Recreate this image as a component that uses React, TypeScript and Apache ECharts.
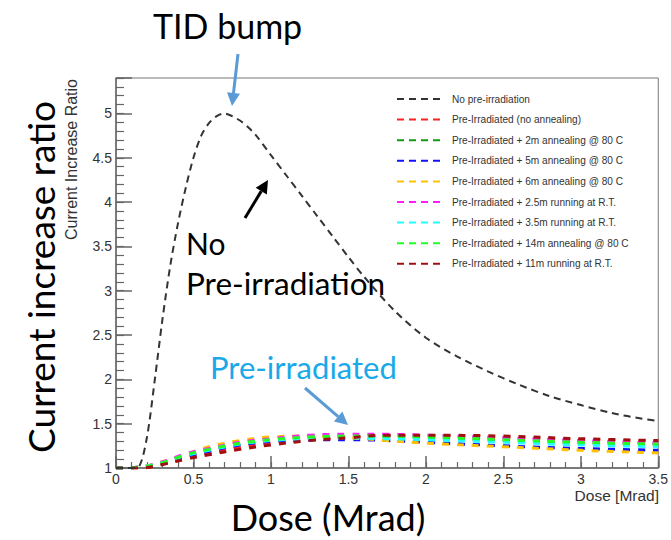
import React, { useEffect, useRef } from 'react';
import * as echarts from 'echarts';

// No pre-irradiation curve
const blackDose = [0, 0.05, 0.1, 0.15, 0.2, 0.25, 0.3, 0.35, 0.4, 0.45, 0.5, 0.55, 0.6, 0.65, 0.7, 0.75, 0.8, 0.85, 0.9, 1.0, 1.1, 1.2, 1.3, 1.4, 1.5, 1.6, 1.8, 2.0, 2.2, 2.4, 2.6, 2.8, 3.0, 3.2, 3.4, 3.5];
const blackRatio = [1.0, 1.0, 1.0, 1.02, 1.35, 1.99, 2.68, 3.28, 3.76, 4.16, 4.5, 4.75, 4.89, 4.97, 5.0, 4.97, 4.92, 4.85, 4.76, 4.53, 4.3, 4.07, 3.84, 3.61, 3.38, 3.16, 2.77, 2.47, 2.26, 2.09, 1.94, 1.81, 1.71, 1.62, 1.555, 1.53];

// Pre-irradiated curves
const preDose = [0, 0.15, 0.3, 0.45, 0.6, 0.8, 1.0, 1.25, 1.5, 1.75, 2.0, 2.5, 3.0, 3.5];
const preNoAnneal = [1, 1.0, 1.04, 1.11, 1.17, 1.23, 1.28, 1.32, 1.35, 1.36, 1.36, 1.34, 1.32, 1.3];
const pre2mAnneal = [1, 1.01, 1.06, 1.14, 1.21, 1.27, 1.31, 1.34, 1.35, 1.35, 1.34, 1.31, 1.28, 1.26];
const pre5mAnneal = [1, 1.01, 1.05, 1.13, 1.19, 1.26, 1.3, 1.32, 1.32, 1.31, 1.29, 1.25, 1.22, 1.2];
const pre6mAnneal = [1, 1.01, 1.07, 1.15, 1.24, 1.31, 1.35, 1.36, 1.34, 1.31, 1.28, 1.24, 1.2, 1.17];
const pre25mRT = [1, 1.01, 1.07, 1.16, 1.22, 1.29, 1.33, 1.37, 1.38, 1.38, 1.37, 1.34, 1.31, 1.28];
const pre35mRT = [1, 1.01, 1.06, 1.14, 1.2, 1.27, 1.31, 1.33, 1.34, 1.33, 1.32, 1.29, 1.26, 1.24];
const pre14mAnneal = [1, 1.01, 1.06, 1.15, 1.21, 1.28, 1.32, 1.35, 1.36, 1.36, 1.35, 1.32, 1.29, 1.27];
const pre11mRT = [1, 1.0, 1.04, 1.1, 1.15, 1.21, 1.26, 1.31, 1.34, 1.37, 1.37, 1.36, 1.33, 1.31];

const seriesNames = [
  'No pre-irradiation',
  'Pre-Irradiated (no annealing)',
  'Pre-Irradiated + 2m annealing @ 80 C',
  'Pre-Irradiated + 5m annealing @ 80 C',
  'Pre-Irradiated + 6m annealing @ 80 C',
  'Pre-Irradiated + 2.5m running at R.T.',
  'Pre-Irradiated + 3.5m running at R.T.',
  'Pre-Irradiated + 14m annealing @ 80 C',
  'Pre-Irradiated + 11m running at R.T.',
];
const seriesColors = ['#333333', '#ff2020', '#109a10', '#1010ff', '#ffc000', '#ff20ff', '#20ffff', '#20ff20', '#a01010'];
const preSeries = [preNoAnneal, pre2mAnneal, pre5mAnneal, pre6mAnneal, pre25mRT, pre35mRT, pre14mAnneal, pre11mRT];

const xTicks = [0, 0.5, 1, 1.5, 2, 2.5, 3, 3.5];
const yTicks = [1, 1.5, 2, 2.5, 3, 3.5, 4, 4.5, 5];

const ANNOT_FONT = 'Lato, "Open Sans", sans-serif';
const ROOT_FONT = '"Liberation Sans", Arial, Helvetica, sans-serif';

function arrow(x1: number, y1: number, x2: number, y2: number, color: string, w: number, head: number) {
  const ang = Math.atan2(y2 - y1, x2 - x1);
  const bx = x2 - head * Math.cos(ang);
  const by = y2 - head * Math.sin(ang);
  const px = -Math.sin(ang) * head * 0.5;
  const py = Math.cos(ang) * head * 0.5;
  return [
    { type: 'line', shape: { x1, y1, x2: bx, y2: by }, style: { stroke: color, lineWidth: w }, silent: true },
    { type: 'polygon', shape: { points: [[x2, y2], [bx + px, by + py], [bx - px, by - py]] }, style: { fill: color }, silent: true },
  ];
}

export default function App() {
  const ref = useRef<HTMLDivElement>(null);
  useEffect(() => {
    const chart = echarts.init(ref.current!, null, { renderer: 'svg' });
    const series: any[] = [];
    preSeries.forEach((vals, i) => {
      series.push({
        name: seriesNames[i + 1],
        type: 'line',
        data: preDose.map((d, j) => [d, vals[j]]),
        smooth: 0.4,
        symbol: 'none',
        lineStyle: { color: seriesColors[i + 1], width: 3, type: [7, 8] },
        z: 2,
      });
    });
    series.push({
      name: seriesNames[0],
      type: 'line',
      data: blackDose.map((d, j) => [d, blackRatio[j]]),
      smooth: 0.3,
      symbol: 'none',
      lineStyle: { color: seriesColors[0], width: 2, type: [7, 5] },
      z: 3,
    });

    const graphic: any[] = [];
    seriesNames.forEach((n, i) => {
      const y = 99 + i * 20.6;
      graphic.push({ type: 'line', shape: { x1: 397, y1: y, x2: 441, y2: y }, style: { stroke: seriesColors[i], lineWidth: 2, lineDash: [7, 5] }, silent: true });
      graphic.push({ type: 'text', x: 452, y, style: { text: n, fill: '#333', font: `10.1px ${ROOT_FONT}`, verticalAlign: 'middle', align: 'left' }, silent: true });
    });
    // inner axis titles
    graphic.push({ type: 'text', x: 71, y: 79, rotation: Math.PI / 2, style: { text: 'Current Increase Ratio', fill: '#333', font: `16px ${ROOT_FONT}`, align: 'right', verticalAlign: 'middle' } });
    graphic.push({ type: 'text', x: 659, y: 495, style: { text: 'Dose [Mrad]', fill: '#333', font: `15.5px ${ROOT_FONT}`, align: 'right', verticalAlign: 'middle' } });
    // annotations
    graphic.push({ type: 'text', x: 153, y: 25, style: { text: 'TID bump', fill: '#000', font: `34px ${ANNOT_FONT}`, align: 'left', verticalAlign: 'middle' } });
    graphic.push({ type: 'text', x: 186, y: 243, style: { text: 'No', fill: '#000', font: `30px ${ANNOT_FONT}`, align: 'left', verticalAlign: 'middle' } });
    graphic.push({ type: 'text', x: 186, y: 283, style: { text: 'Pre-irradiation', fill: '#000', font: `31.5px ${ANNOT_FONT}`, align: 'left', verticalAlign: 'middle' } });
    graphic.push({ type: 'text', x: 210, y: 367, style: { text: 'Pre-irradiated', fill: '#1aa9e8', font: `31px ${ANNOT_FONT}`, align: 'left', verticalAlign: 'middle' } });
    graphic.push({ type: 'text', x: 40, y: 277, rotation: Math.PI / 2, style: { text: 'Current increase ratio', fill: '#000', font: `37px ${ANNOT_FONT}`, align: 'center', verticalAlign: 'middle' } });
    graphic.push({ type: 'text', x: 328, y: 517, style: { text: 'Dose (Mrad)', fill: '#000', font: `36px ${ANNOT_FONT}`, align: 'center', verticalAlign: 'middle' } });
    graphic.push(...arrow(238, 54, 232, 106, '#5b9bd5', 3, 13));
    graphic.push(...arrow(245, 218, 268, 180, '#000', 3, 13));
    graphic.push(...arrow(305, 388, 348, 425, '#5b9bd5', 3, 13));

    const axisCol = '#666';
    const option: any = {
      animation: false,
      backgroundColor: '#fff',
      grid: { left: 116, right: 12, top: 78, bottom: 72, show: true, borderColor: '#777', borderWidth: 1, backgroundColor: 'transparent' },
      xAxis: [
        {
          type: 'value', min: 0, max: 3.5, interval: 0.5,
          axisLine: { show: true, lineStyle: { color: axisCol, width: 1.5 } },
          axisTick: { show: true, inside: true, length: 12, lineStyle: { color: axisCol, width: 1.5 } },
          splitLine: { show: false },
          axisLabel: { fontSize: 14, color: '#333', fontFamily: ROOT_FONT, margin: 4, formatter: (v: number) => (xTicks.indexOf(Math.round(v * 10) / 10) >= 0 ? String(v) : '') },
        },
        {
          type: 'value', min: 0, max: 3.5, interval: 0.1, position: 'bottom',
          axisLine: { show: false },
          axisTick: { show: true, inside: true, length: 6, lineStyle: { color: axisCol, width: 1.2 } },
          splitLine: { show: false },
          axisLabel: { show: false },
        },
      ],
      yAxis: [
        {
          type: 'value', min: 1, max: 5.4, interval: 0.5,
          axisLine: { show: true, lineStyle: { color: axisCol, width: 1.5 } },
          axisTick: { show: true, inside: true, length: 16, lineStyle: { color: axisCol, width: 1.5 } },
          splitLine: { show: false },
          axisLabel: { fontSize: 14, color: '#333', fontFamily: ROOT_FONT, margin: 4, formatter: (v: number) => (yTicks.indexOf(Math.round(v * 10) / 10) >= 0 ? String(v) : '') },
        },
        {
          type: 'value', min: 1, max: 5.4, interval: 0.1, position: 'left',
          axisLine: { show: false },
          axisTick: { show: true, inside: true, length: 8, lineStyle: { color: axisCol, width: 1.2 } },
          splitLine: { show: false },
          axisLabel: { show: false },
        },
      ],
      series,
      graphic,
    };
    chart.setOption(option);
    return () => chart.dispose();
  }, []);
  return <div ref={ref} style={{ position: 'absolute', left: 0, top: 0, width: 671, height: 540, background: '#fff' }} />;
}
